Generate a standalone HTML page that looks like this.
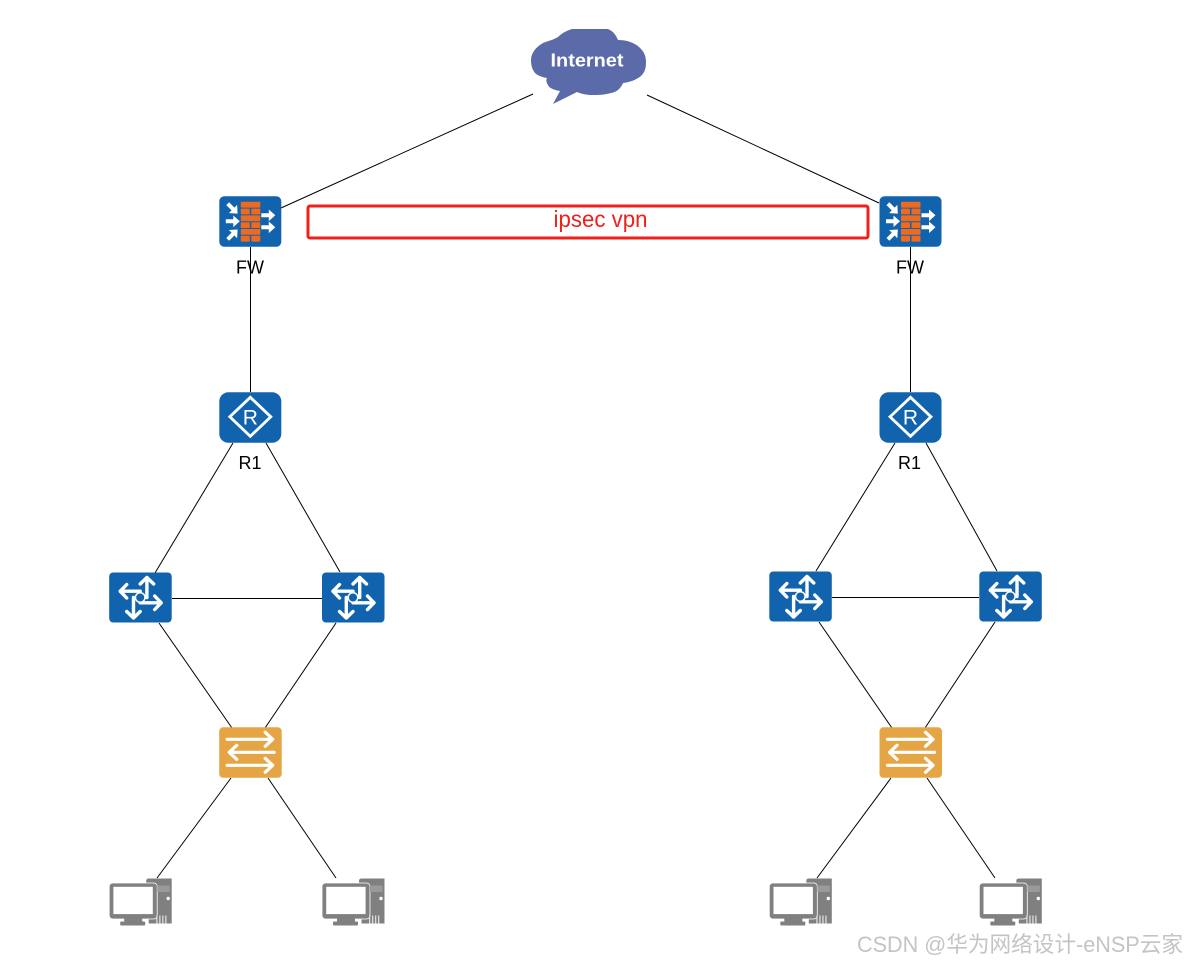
<!DOCTYPE html>
<html><head><meta charset="utf-8"><style>
html,body{margin:0;padding:0;background:#fff;width:1187px;height:964px;overflow:hidden}
svg{display:block}
text{font-family:"Liberation Sans","Noto Sans CJK SC",sans-serif}
</style></head><body>
<svg width="1187" height="964" viewBox="0 0 1187 964" xmlns="http://www.w3.org/2000/svg">
<defs>
<path id="ar" d="M-6.500 -2H1V-5.800L7.500 0L1 5.800V2H-6.500Z" fill="#fff"/>
<g id="fw">
<rect width="62" height="50.500" rx="5" fill="#1263ae"/>
<g fill="#ee6a1f">
<rect x="21.500" y="5.500" width="19.500" height="5.800" rx=".8"/>
<rect x="21.500" y="12.300" width="9" height="5.800" rx=".8"/><rect x="32" y="12.300" width="9" height="5.800" rx=".8"/>
<rect x="21.500" y="19.100" width="19.500" height="5.800" rx=".8"/>
<rect x="21.500" y="25.900" width="9" height="5.800" rx=".8"/><rect x="32" y="25.900" width="9" height="5.800" rx=".8"/>
<rect x="21.500" y="32.700" width="19.500" height="5.800" rx=".8"/>
<rect x="21.500" y="39.500" width="9" height="5.800" rx=".8"/><rect x="32" y="39.500" width="9" height="5.800" rx=".8"/>
</g>
<use href="#ar" transform="translate(13 12) rotate(45)"/>
<use href="#ar" transform="translate(13 25)"/>
<use href="#ar" transform="translate(13 38.500) rotate(-45)"/>
<use href="#ar" transform="translate(48.500 19)"/>
<use href="#ar" transform="translate(48.500 31)"/>
</g>
<g id="rt">
<rect width="62" height="50.500" rx="9" fill="#1263ae"/>
<path d="M31 5L51.500 24.500L31 44L10.500 24.500Z" fill="none" stroke="#fff" stroke-width="2.800"/>
<text x="31" y="32" font-size="21" fill="#fff" text-anchor="middle">R</text>
</g>
<g id="l3">
<rect width="62.500" height="50" rx="4" fill="#1263ae"/>
<g fill="none" stroke="#fff" stroke-width="3.400" stroke-linecap="round" stroke-linejoin="round">
<path d="M37.700 5V25M31 11.500L37.700 5L44.500 11.500"/>
<path d="M11 18.700H31M17.500 12L11 18.700L17.500 25.500"/>
<path d="M31 30.300H52M45.500 23.500L52 30.300L45.500 37"/>
<path d="M24.300 25V45.500M17.500 39L24.300 45.500L31 39"/>
</g>
<circle cx="31" cy="25" r="4.800" fill="#1263ae" stroke="#fff" stroke-width="1.500"/>
</g>
<g id="sw">
<rect width="62.500" height="50.500" rx="4" fill="#e5a545"/>
<g fill="none" stroke="#fff" stroke-width="3.200" stroke-linejoin="round" stroke-linecap="round">
<path d="M8 12H53.500M46 5L53.500 12L46 19"/>
<path d="M55 25H10M17.500 18L10 25L17.500 32"/>
<path d="M8 38H53.500M46 31L53.500 38L46 45"/>
</g>
</g>
<g id="pc">
<path d="M37 2.500Q37 0 39.500 0H62.500V45H39.500V7H37Z" fill="#808080"/>
<rect x="0" y="4.500" width="48" height="36" rx="3.500" fill="#808080" stroke="#fff" stroke-width=".8"/>
<rect x="4.200" y="8.300" width="39.400" height="27.300" fill="#fff"/>
<rect x="48" y="7" width="12.500" height="6.500" fill="#9a9a9a"/>
<circle cx="59" cy="20" r="1.700" fill="#fff"/>
<g fill="#ddd"><rect x="47" y="37" width="1.300" height="8"/><rect x="50" y="37" width="1.300" height="8"/><rect x="53" y="37" width="1.300" height="8"/><rect x="56" y="37" width="1.300" height="8"/></g>
<rect x="15" y="40" width="18" height="3" fill="#808080"/>
<rect x="11" y="43" width="25" height="4" rx="1" fill="#808080"/>
</g>
</defs>
<g stroke="#000" stroke-width="1" fill="none">
<path d="M533 94L281 208M647 95L879 203"/>
<path d="M250.500 247V392M910.500 247V392"/>
<path d="M233 443L155 573M266 443L340 572M895 443L816 571M926 443L997 571"/>
<path d="M172 598.500H322M832 597.500H979"/>
<path d="M159 623L232 728M336 623L265 728M819 622L892 728M995 622L925 728"/>
<path d="M231 778L157 878M268 778L336 878M891 778L817 878M927 778L995 878"/>
</g>
<path fill="#5b6aa8" d="M572 29H608C613 31 616 35 618 40C627 40 636 43 641 49C645 53 646 58 646 62C646 68 645 72 641 76C636 80 630 82 623 83C621 88 617 92 611 93C604 95 598 95 593 95C587 95 582 94 577 92L553 104L560 91C554 90 549 88 548 85C546 82 546 80 547 78C541 77 537 75 535 73C532 69 531 65 531 60C531 53 536 47 543 43C548 41 553 40 558 37C562 33 566 31 572 29Z"/>
<text x="587" y="66.500" font-size="18" font-weight="bold" fill="#fff" text-anchor="middle" textLength="73" lengthAdjust="spacingAndGlyphs">Internet</text>
<use href="#fw" x="219.300" y="196.300"/><use href="#fw" x="879.500" y="196.300"/>
<use href="#rt" x="219.300" y="392.300"/><use href="#rt" x="879.500" y="392.300"/>
<use href="#l3" x="109.200" y="572.500"/><use href="#l3" x="322" y="572.500"/>
<use href="#l3" x="769.300" y="571.500"/><use href="#l3" x="979.300" y="571.500"/>
<use href="#sw" x="219.200" y="727.300"/><use href="#sw" x="879.500" y="727.300"/>
<use href="#pc" x="109.200" y="878.500"/><use href="#pc" x="322" y="878.500"/>
<use href="#pc" x="769.300" y="878.500"/><use href="#pc" x="979.300" y="878.500"/>
<rect x="308" y="206" width="560" height="32" rx="2" fill="none" stroke="#f0201c" stroke-width="3"/>
<text x="600.500" y="227" font-size="23" fill="#f0201c" text-anchor="middle" textLength="94" lengthAdjust="spacingAndGlyphs">ipsec vpn</text>
<g font-size="18" fill="#000" text-anchor="middle">
<text x="250" y="273.500" textLength="28" lengthAdjust="spacingAndGlyphs">FW</text><text x="910" y="273.500" textLength="28" lengthAdjust="spacingAndGlyphs">FW</text>
<text x="250" y="469">R1</text><text x="909.500" y="469">R1</text>
</g>
<text x="857" y="952" font-size="22" fill="#c4c4c4" textLength="326" lengthAdjust="spacingAndGlyphs">CSDN @华为网络设计-eNSP云家</text>
</svg>
</body></html>
